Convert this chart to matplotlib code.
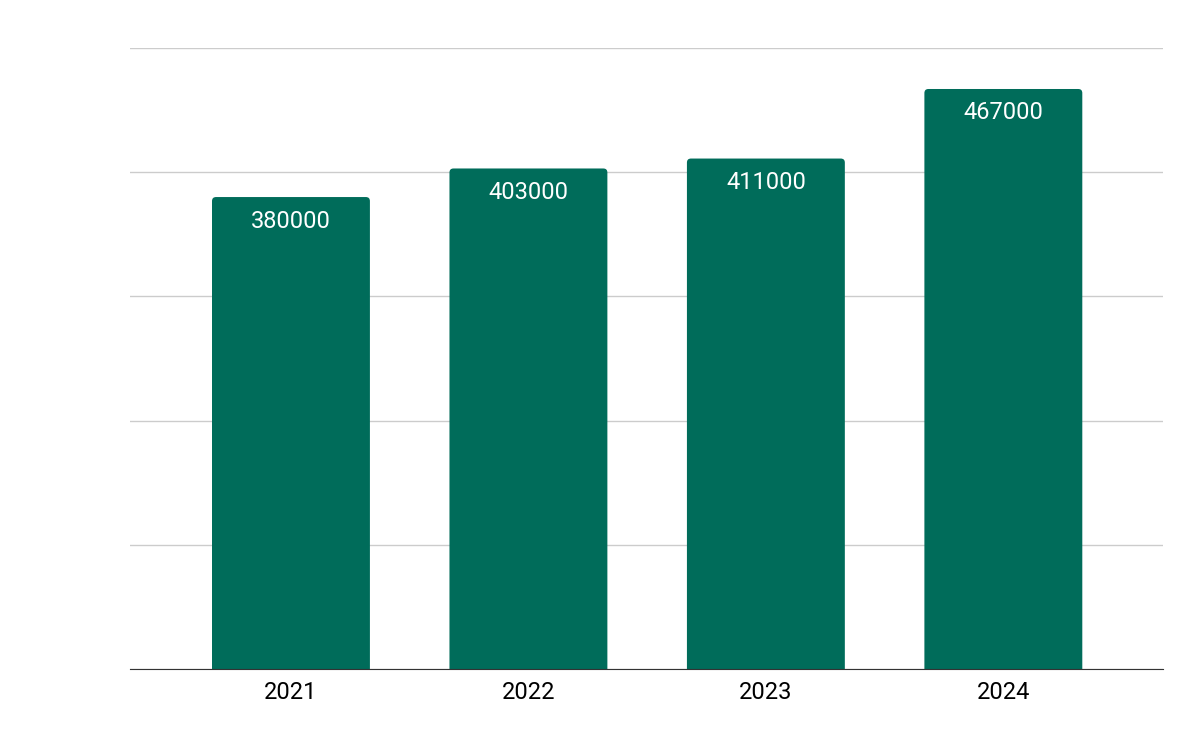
import matplotlib.pyplot as plt
from matplotlib.patches import FancyBboxPatch

plt.rcParams['font.family'] = ['Roboto', 'DejaVu Sans']

years = ['2021', '2022', '2023', '2024']
values = [380000, 403000, 411000, 467000]

bar_color = '#006c5a'
fig = plt.figure(figsize=(12, 7.42), dpi=100)
ax = fig.add_axes([0.1083, 0.0984, 0.8608, 0.8369])

x = list(range(len(years)))
width = 0.665
bars = ax.bar(x, values, width, color=bar_color, zorder=3)

# swap plain bars for ones with rounded tops (bottom corners fall below 0 and get clipped)
for b in bars:
    b.set_visible(False)
    ext = 20000
    patch = FancyBboxPatch((b.get_x(), -ext), b.get_width(), b.get_height() + ext,
                           boxstyle='round,pad=0,rounding_size=0.017',
                           mutation_aspect=191500,
                           facecolor=bar_color, edgecolor='none', zorder=3)
    ax.add_patch(patch)

for xi, v in zip(x, values):
    ax.annotate(f'{v}', (xi, v), xytext=(0, -9), textcoords='offset points',
                ha='center', va='top', color='white', fontsize=17)

ax.set_xlim(-0.678, 3.672)
ax.set_ylim(0, 500000)
ax.set_yticks([0, 100000, 200000, 300000, 400000, 500000])
ax.set_yticklabels([])
ax.tick_params(axis='y', length=0)
ax.tick_params(axis='x', length=0, labelsize=17, pad=9)
ax.set_xticks(x)
ax.set_xticklabels(years)
ax.grid(axis='y', color='#cccccc', linewidth=1, zorder=0)
for s in ['top', 'right', 'left']:
    ax.spines[s].set_visible(False)
ax.spines['bottom'].set_color('#333333')
ax.spines['bottom'].set_zorder(4)

fig.savefig('out.png', dpi=100)
